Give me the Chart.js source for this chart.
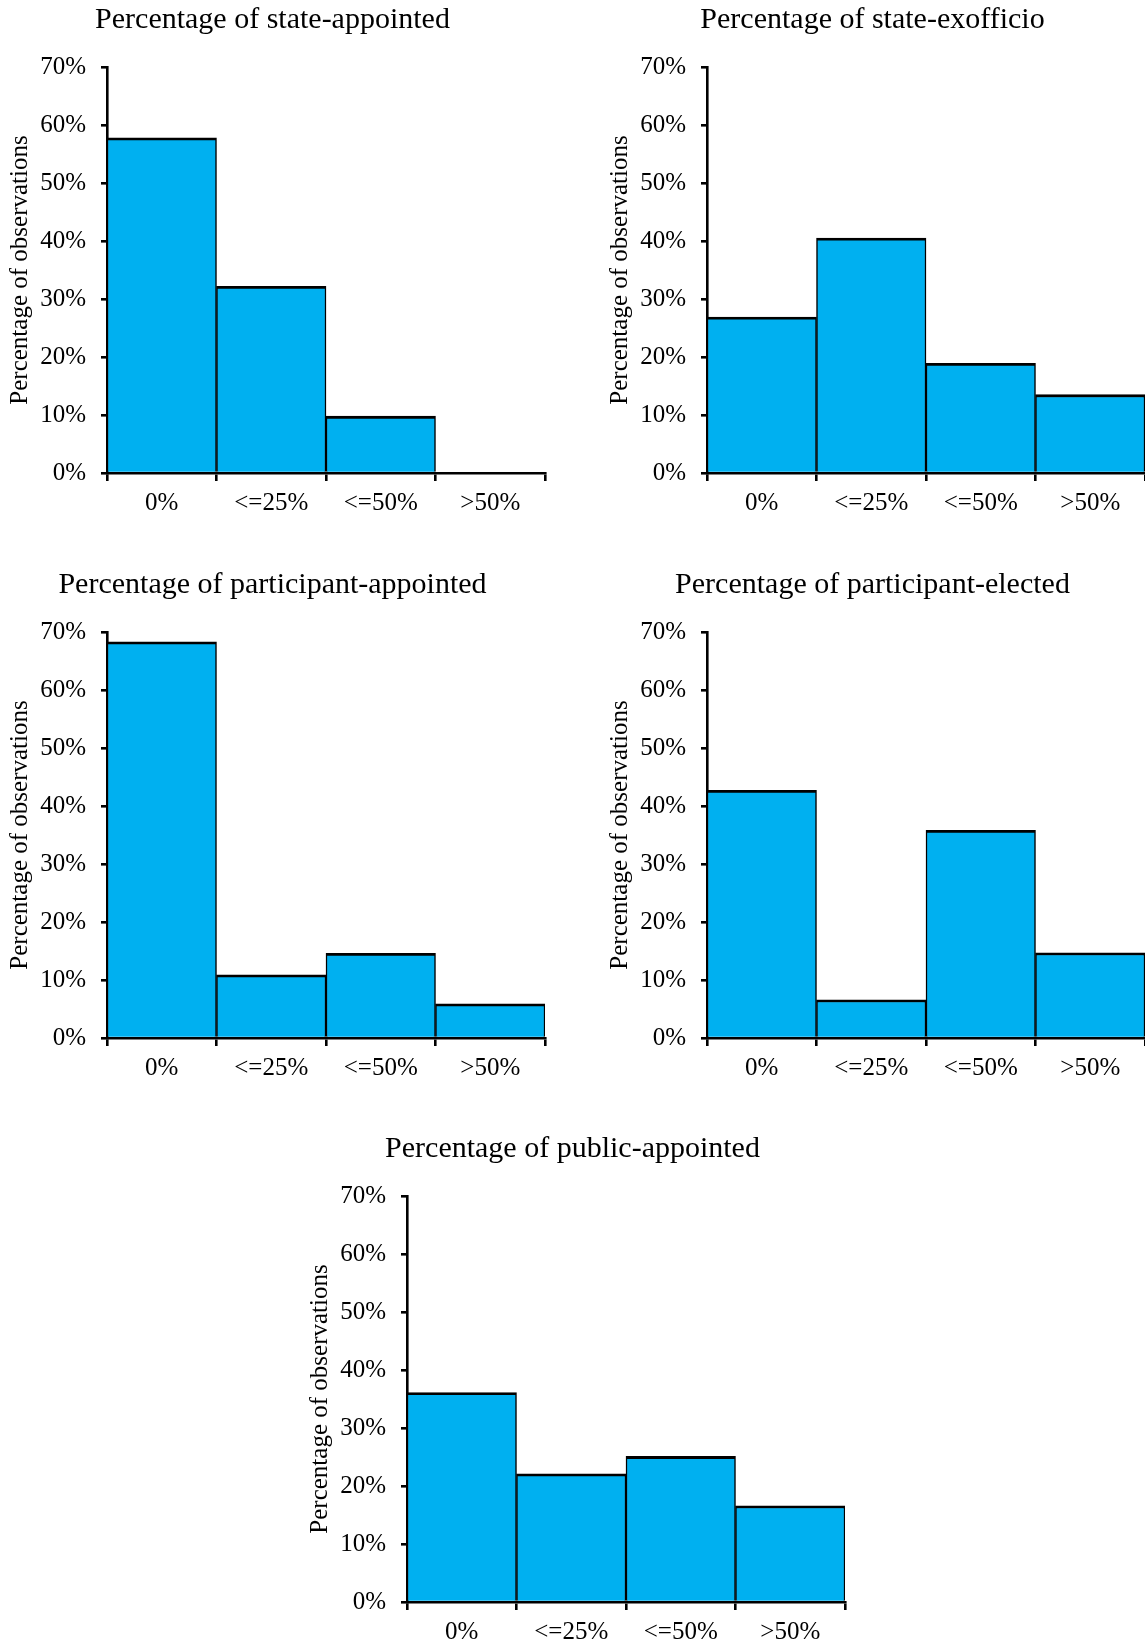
<!DOCTYPE html>
<html lang="en">
<head>
    <meta charset="UTF-8">
    <meta name="viewport" content="width=device-width, initial-scale=1.0">
    <title>Percentage of observations</title>
    <script src="https://cdnjs.cloudflare.com/ajax/libs/Chart.js/4.4.1/chart.umd.min.js"></script>
    <style>
        html, body { margin: 0; padding: 0; background: #fff; overflow: hidden; }
        body { width: 1145px; height: 1645px; position: relative; }
        canvas { position: absolute; }
    </style>
</head>
<body>
    <canvas id="c1" width="547" height="523" style="left:0px; top:0px"></canvas>
    <canvas id="c2" width="547" height="523" style="left:600px; top:0px"></canvas>
    <canvas id="c3" width="547" height="523" style="left:0px; top:565px"></canvas>
    <canvas id="c4" width="547" height="523" style="left:600px; top:565px"></canvas>
    <canvas id="c5" width="547" height="523" style="left:300px; top:1129px"></canvas>

<script>
    const categories = ['0%', '<=25%', '<=50%', '>50%']

    // share of observations in each bin, %
    const stateAppointed = [57.8, 32.2, 9.8, 0]
    const stateExofficio = [26.9, 40.5, 18.9, 13.5]
    const participantAppointed = [68.3, 10.9, 14.6, 5.9]
    const participantElected = [42.7, 6.6, 35.8, 14.7]
    const publicAppointed = [36.1, 22.1, 25.1, 16.6]

    const yMax = 70
    const yStep = 10

    const font = 'Liberation Serif, Times New Roman, serif'

    function makeChart(id, title, values){
        const ctx = document.getElementById(id)
        return new Chart(ctx, {
            type: 'bar',
            data: {
                labels: categories,
                datasets: [{
                    data: values,
                    backgroundColor: '#00B0F0',
                    borderColor: '#000',
                    borderWidth: {top: 2.8, left: 1.5, right: 1.5, bottom: 0},
                    borderSkipped: 'bottom',
                    barPercentage: 1,
                    categoryPercentage: 1
                }]
            },
            options: {
                responsive: false,
                animation: false,
                layout: { padding: {left: 0, right: 2, top: 0, bottom: 0} },
                plugins: {
                    legend: { display: false },
                    tooltip: { enabled: false },
                    title: {
                        display: true,
                        text: title,
                        color: '#000',
                        font: { family: font, size: 30, weight: 'normal' },
                        padding: {top: 2, bottom: 29}
                    }
                },
                scales: {
                    x: {
                        z: 1,
                        offset: true,
                        grid: {
                            offset: true,
                            drawOnChartArea: false,
                            color: '#000',
                            lineWidth: 2.6,
                            tickLength: 8
                        },
                        border: { color: '#000', width: 2.6 },
                        ticks: {
                            color: '#000',
                            font: { family: font, size: 25 },
                            maxRotation: 0,
                            autoSkip: false,
                            padding: 7
                        },
                        afterFit: (scale) => { scale.height = 50 }
                    },
                    y: {
                        z: 1,
                        min: 0,
                        max: yMax,
                        grid: {
                            drawOnChartArea: false,
                            color: '#000',
                            lineWidth: 2.6,
                            tickLength: 6
                        },
                        border: { color: '#000', width: 2.6 },
                        ticks: {
                            stepSize: yStep,
                            color: '#000',
                            font: { family: font, size: 25 },
                            padding: 15,
                            callback: (v) => v + '%'
                        },
                        title: {
                            display: true,
                            text: 'Percentage of observations',
                            color: '#000',
                            font: { family: font, size: 25 },
                            padding: {top: 5, bottom: 0}
                        },
                        afterFit: (scale) => { scale.width = 107 }
                    }
                }
            }
        })
    }

    makeChart('c1', 'Percentage of state-appointed', stateAppointed)
    makeChart('c2', 'Percentage of state-exofficio', stateExofficio)
    makeChart('c3', 'Percentage of participant-appointed', participantAppointed)
    makeChart('c4', 'Percentage of participant-elected', participantElected)
    makeChart('c5', 'Percentage of public-appointed', publicAppointed)
</script>
</body>
</html>
